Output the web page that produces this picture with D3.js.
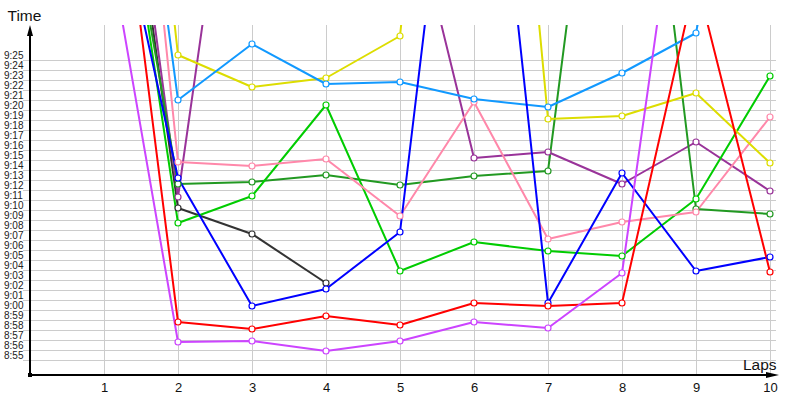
<!DOCTYPE html>
<html><head><meta charset="utf-8">
<script src="https://cdn.jsdelivr.net/npm/d3@7/dist/d3.min.js"></script>
<style>
html,body{margin:0;padding:0;background:#fff;}
svg{display:block;font-family:"Liberation Sans",Arial,sans-serif;}
</style></head>
<body>
<svg id="chart" width="800" height="400"></svg>
<script>
// Laps (x categories)
const laps = [1,2,3,4,5,6,7,8,9,10];
// Y tick values: lap times in seconds (8:55 .. 9:25)
const yTicks = d3.range(535, 566, 1);
// Series values: lap time in seconds (null = not read / absent)
const lightPurple = [579.4, 536.8, 536.9, 535.9, 536.9, 538.8, 538.2, 543.7, 596.1, null];
const red         = [597.2, 538.8, 538.1, 539.4, 538.5, 540.7, 540.4, 540.7, 573.2, 543.8];
const blue        = [586.8, 553.2, 540.4, 542.1, 547.8, 609.5, 540.7, 553.7, 543.9, 545.3];
const lightBlue   = [616.5, 561.0, 566.6, 562.6, 562.8, 561.1, 560.3, 563.7, 567.7, 606.0];
const yellow      = [632.8, 565.5, 562.3, 563.2, 567.4, 638.0, 559.1, 559.4, 561.7, 554.7];
const pink        = [627.1, 554.8, 554.4, 555.1, 549.4, 560.8, 547.1, 548.8, 549.8, 559.3];
const green       = [597.6, 548.7, 551.4, 560.5, 543.9, 546.8, 545.9, 545.4, 551.1, 563.4];
const darkGreen   = [595.2, 552.6, 552.8, 553.5, 552.5, 553.4, 553.9, 611.5, 550.1, 549.6];
const darkPurple  = [606.0, 551.3, 603.4, null, 585.4, 555.2, 555.8, 552.6, 556.8, 551.9];
const black       = [603.2, 550.2, 547.6, 542.7, null, null, null, null, null, null];

const seriesList = [
  {values: black, color: "#333333"},
  {values: darkPurple, color: "#993399"},
  {values: darkGreen, color: "#229922"},
  {values: green, color: "#00cc00"},
  {values: pink, color: "#ff88aa"},
  {values: yellow, color: "#dddd00"},
  {values: lightBlue, color: "#1199ff"},
  {values: blue, color: "#0000ff"},
  {values: red, color: "#ff0000"},
  {values: lightPurple, color: "#cc44ff"}
];

const svg = d3.select("#chart");
const x = d3.scaleLinear().domain([0, 10]).range([30, 770]);
const y = d3.scaleLinear().domain([535, 565]).range([360, 60]);
const fmt = s => Math.floor(s/60) + ":" + String(Math.round(s % 60)).padStart(2, "0");

// Y grid + labels
const gy = svg.append("g").attr("transform", "translate(23,0)")
  .call(d3.axisLeft(y).tickValues(yTicks).tickSize(-753).tickFormat(fmt));
gy.select(".domain").remove();
gy.selectAll(".tick line").attr("stroke", "#cccccc").attr("stroke-width", 1);
gy.selectAll(".tick text").attr("x", -19).attr("dy", 0).attr("y", -1.5)
  .attr("text-anchor", "start").attr("fill", "#222").style("font-size", "10px")
  .style("font-family", "'Liberation Sans',Arial,sans-serif");

// X grid + labels
const gx = svg.append("g").attr("transform", "translate(0,375)")
  .call(d3.axisBottom(x).tickValues(laps).tickSize(-350).tickFormat(d3.format("d")));
gx.select(".domain").remove();
gx.selectAll(".tick line").attr("stroke", "#cccccc").attr("stroke-width", 1);
gx.selectAll(".tick text").attr("y", 16.5).attr("dy", 0).attr("fill", "#111")
  .style("font-size", "13px").style("font-family", "'Liberation Sans',Arial,sans-serif");

// Clip
svg.append("defs").append("clipPath").attr("id", "plotclip")
  .append("rect").attr("x", 30).attr("y", 25).attr("width", 752).attr("height", 350);

const plot = svg.append("g").attr("clip-path", "url(#plotclip)");
const line = d3.line().defined(d => d.v != null).x(d => x(d.lap)).y(d => y(d.v));

seriesList.forEach(s => {
  const pts = laps.map((lap, i) => ({lap, v: s.values[i]}));
  plot.append("path").datum(pts).attr("d", line)
    .attr("fill", "none").attr("stroke", s.color).attr("stroke-width", 2)
    .attr("stroke-linejoin", "round");
});
seriesList.forEach(s => {
  const pts = laps.map((lap, i) => ({lap, v: s.values[i]})).filter(d => d.v != null);
  plot.selectAll(null).data(pts).enter().append("circle")
    .attr("cx", d => x(d.lap)).attr("cy", d => y(d.v)).attr("r", 3)
    .attr("fill", "#fff").attr("stroke", s.color).attr("stroke-width", 1.2);
});

// Axes with arrows
svg.append("line").attr("x1", 30).attr("y1", 376).attr("x2", 30).attr("y2", 32)
  .attr("stroke", "#000").attr("stroke-width", 2);
svg.append("path").attr("d", "M30,25 L33,36 L27,36 Z").attr("fill", "#000");
svg.append("line").attr("x1", 29).attr("y1", 375).attr("x2", 772).attr("y2", 375)
  .attr("stroke", "#000").attr("stroke-width", 2);
svg.append("path").attr("d", "M779,375 L766,372 L766,378 Z").attr("fill", "#000");
svg.append("rect").attr("x", 28).attr("y", 373).attr("width", 4).attr("height", 4).attr("fill", "#000");

svg.append("text").attr("x", 7.5).attr("y", 20.5).text("Time")
  .style("font-size", "15.5px").attr("fill", "#111");
svg.append("text").attr("x", 743).attr("y", 369.5).text("Laps")
  .style("font-size", "15.5px").attr("fill", "#111");
</script>
</body></html>
